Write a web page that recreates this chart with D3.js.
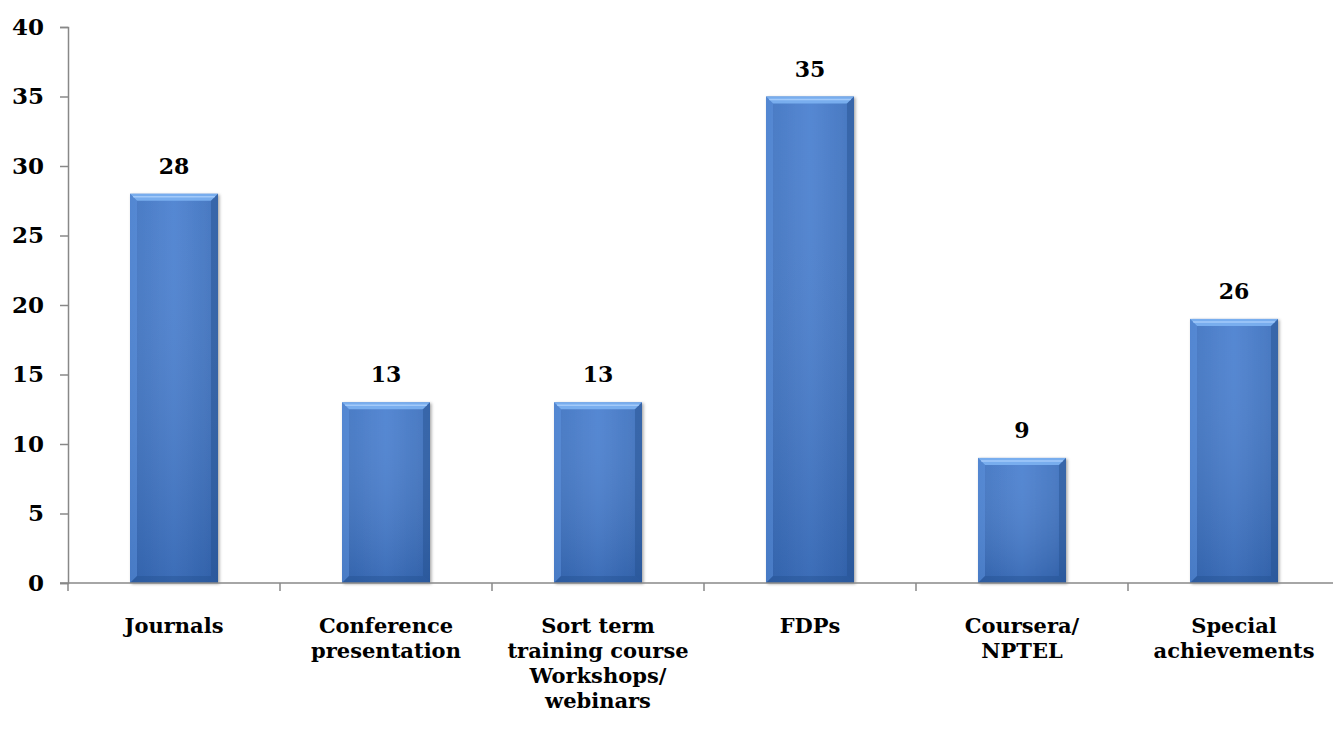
<!DOCTYPE html>
<meta charset="utf-8">
<style>
    body { margin: 0; background: #fff; }
    text { font-family: "DejaVu Serif", serif; font-weight: bold; fill: #000; }
</style>
<svg width="1333" height="729"></svg>
<script src="https://d3js.org/d3.v7.min.js"></script>
<script>
    const categories = [
        ["Journals"],
        ["Conference", "presentation"],
        ["Sort term", "training course", "Workshops/", "webinars"],
        ["FDPs"],
        ["Coursera/", "NPTEL"],
        ["Special", "achievements"]
    ]
    const values = [28, 13, 13, 35, 9, 19]
    const labels = ["28", "13", "13", "35", "9", "26"]
    const yTicks = [0, 5, 10, 15, 20, 25, 30, 35, 40]

    const svg = d3.select("svg")
    const mLeft = 68, mRight = 1340, mTop = 27, mBottom = 583

    const x = d3.scaleBand().domain(d3.range(values.length)).range([mLeft, mRight]).paddingInner(0.585).paddingOuter(0.2925)
    const y = d3.scaleLinear().domain([0, 40]).range([mBottom, mTop])
    const step = (mRight - mLeft) / values.length

    const defs = svg.append("defs")
    const g1 = defs.append("linearGradient").attr("id", "face").attr("x1", 0).attr("x2", 1).attr("y1", 0).attr("y2", 0)
    g1.append("stop").attr("offset", "0%").attr("stop-color", "#3d71bf")
    g1.append("stop").attr("offset", "50%").attr("stop-color", "#4a80d0")
    g1.append("stop").attr("offset", "100%").attr("stop-color", "#3b6ebb")
    const g2 = defs.append("linearGradient").attr("id", "vert").attr("x1", 0).attr("x2", 0).attr("y1", 0).attr("y2", 1)
    g2.append("stop").attr("offset", "0%").attr("stop-color", "#fff").attr("stop-opacity", 0.06)
    g2.append("stop").attr("offset", "100%").attr("stop-color", "#0a2a60").attr("stop-opacity", 0.22)
    defs.append("filter").attr("id", "shadow").attr("x", "-20%").attr("y", "-20%").attr("width", "140%").attr("height", "140%")
        .append("feDropShadow").attr("dx", 1.5).attr("dy", 1).attr("stdDeviation", 1.5).attr("flood-opacity", 0.35)

    // bars
    const bars = svg.append("g").selectAll("g").data(values).join("g")
    bars.each(function (d, i) {
        const g = d3.select(this)
        const x0 = x(i), w = x.bandwidth(), y0 = y(d), y1 = y(0), b = 7
        g.append("rect").attr("x", x0).attr("y", y0).attr("width", w).attr("height", y1 - y0)
            .attr("fill", "url(#face)").attr("filter", "url(#shadow)")
        g.append("rect").attr("x", x0).attr("y", y0).attr("width", w).attr("height", y1 - y0).attr("fill", "url(#vert)")
        // bevel: top, left, right, bottom
        g.append("polygon").attr("points", [[x0, y0], [x0 + w, y0], [x0 + w - b, y0 + b], [x0 + b, y0 + b]].join(" "))
            .attr("fill", "#7db2f2").attr("opacity", 0.9)
        g.append("line").attr("x1", x0 + 3).attr("x2", x0 + w - 3).attr("y1", y0 + 3).attr("y2", y0 + 3)
            .attr("stroke", "#b5d6ff").attr("stroke-width", 1.5).attr("opacity", 0.7)
        g.append("polygon").attr("points", [[x0, y0], [x0 + b, y0 + b], [x0 + b, y1 - b], [x0, y1]].join(" "))
            .attr("fill", "#5d93e0").attr("opacity", 0.5)
        g.append("polygon").attr("points", [[x0 + w, y0], [x0 + w, y1], [x0 + w - b, y1 - b], [x0 + w - b, y0 + b]].join(" "))
            .attr("fill", "#24508f").attr("opacity", 0.45)
        g.append("polygon").attr("points", [[x0, y1], [x0 + w, y1], [x0 + w - b, y1 - b], [x0 + b, y1 - b]].join(" "))
            .attr("fill", "#24508f").attr("opacity", 0.4)
    })

    // value labels
    svg.append("g").selectAll("text").data(values).join("text")
        .attr("x", (d, i) => x(i) + x.bandwidth() / 2)
        .attr("y", d => y(d) - 20)
        .attr("text-anchor", "middle")
        .attr("font-size", 22)
        .text((d, i) => labels[i])

    // y axis
    const yAxis = svg.append("g").attr("transform", `translate(${mLeft},0)`)
        .call(d3.axisLeft(y).tickValues(yTicks).tickSize(8).tickSizeOuter(8).tickPadding(16))
    yAxis.selectAll("path, line").attr("stroke", "#888").attr("stroke-width", 1.5)
    yAxis.selectAll("text").attr("font-size", 23).attr("font-family", "DejaVu Serif")

    // x axis
    const xg = svg.append("g")
    xg.append("line").attr("x1", mLeft - 8).attr("x2", mRight).attr("y1", mBottom).attr("y2", mBottom)
        .attr("stroke", "#888").attr("stroke-width", 1.5)
    xg.selectAll("line.tick").data(d3.range(values.length)).join("line").attr("class", "tick")
        .attr("x1", i => mLeft + i * step).attr("x2", i => mLeft + i * step)
        .attr("y1", mBottom).attr("y2", mBottom + 8)
        .attr("stroke", "#888").attr("stroke-width", 1.5)

    xg.selectAll("text").data(categories).join("text")
        .attr("text-anchor", "middle")
        .attr("font-size", 21)
        .attr("y", 633)
        .each(function (lines, i) {
            d3.select(this).selectAll("tspan").data(lines).join("tspan")
                .attr("x", x(i) + x.bandwidth() / 2)
                .attr("dy", (l, j) => j === 0 ? 0 : 25)
                .text(l => l)
        })
</script>
